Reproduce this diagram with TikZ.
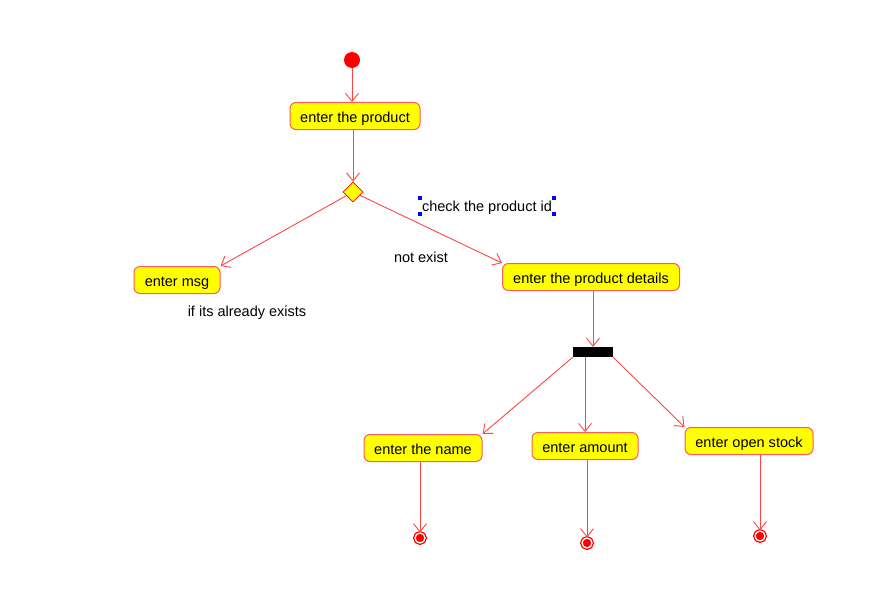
\documentclass[tikz,border=0pt]{standalone}
\usepackage{fontspec}
\setmainfont{Liberation Sans}
\usetikzlibrary{arrows.meta,shapes.geometric}
\definecolor{lnred}{RGB}{255,70,70}
\definecolor{bxred}{RGB}{255,90,90}
\definecolor{bxyel}{RGB}{255,255,0}
\tikzset{
  act/.style={draw=bxred, fill=bxyel, rounded corners=6pt, line width=1pt, inner sep=0pt,
              minimum height=27pt, text height=13pt, text depth=1pt, font=\fontsize{14.5}{16}\selectfont},
  lbl/.style={inner sep=0pt, font=\fontsize{14.5}{16}\selectfont},
  flow/.style={draw=lnred, line width=0.9pt, -{Straight Barb[length=8pt,width=13pt,line width=0.9pt]}},
  endst/.style={circle, draw=red, double=white, double distance=1.3pt, fill=red, line width=1.3pt,
                minimum size=10pt, inner sep=0pt},
  handle/.style={fill=blue, minimum size=4pt, inner sep=0pt}
}
\begin{document}
\begin{tikzpicture}[x=1pt,y=-1pt]
\fill[white] (0,0) rectangle (877,591);
\useasboundingbox (0,0) rectangle (877,591);

\node[circle, fill=red, minimum size=16pt, inner sep=0pt] (start) at (352,60) {};
\node[act, minimum width=130pt] (prod) at (355,116) {enter the product};
\node[diamond, draw=red, fill=bxyel, line width=0.8pt, minimum size=20pt, inner sep=0pt] (dec) at (353,192) {};
\node[lbl, minimum width=134pt, minimum height=15pt, text height=12pt, text depth=1pt] (chk) at (487,206) {check the product id};
\foreach \a in {north west, south west, north east, south east}
  \node[handle] at (chk.\a) {};

\node[act, minimum width=86pt] (msg) at (177,280) {enter msg};
\node[lbl] (ifex) at (247,313) {if its already exists};
\node[lbl] (nex) at (421,257) {not exist};
\node[act, minimum width=177pt] (det) at (591,277) {enter the product details};

\node[fill=black, minimum width=40pt, minimum height=10pt, inner sep=0pt] (fork) at (593,352) {};

\node[act, minimum width=118pt] (name) at (423,448) {enter the name};
\node[act, minimum width=106pt] (amt) at (585,446) {enter amount};
\node[act, minimum width=128pt] (stock) at (749,441) {enter open stock};

\node[endst] (e1) at (420,538) {};
\node[endst] (e2) at (587,543) {};
\node[endst] (e3) at (760,536) {};

\draw[flow] (start) -- (start |- prod.north);
\draw[flow] (prod.south -| dec) -- (dec.north);
\draw[flow] (dec) -- (msg.north east);
\draw[flow] (dec) -- (det.north west);
\draw[flow] (det.south -| fork.north) -- (fork.north);
\draw[flow] (fork.south west) -- (name.north east);
\draw[flow] (fork.south -| amt.north) -- (amt.north);
\draw[flow] (fork.south east) -- (stock.north west);
\draw[flow] (name.south -| e1) -- (e1);
\draw[flow] (amt.south -| e2) -- (e2);
\draw[flow] (stock.south -| e3) -- (e3);
\end{tikzpicture}
\end{document}
